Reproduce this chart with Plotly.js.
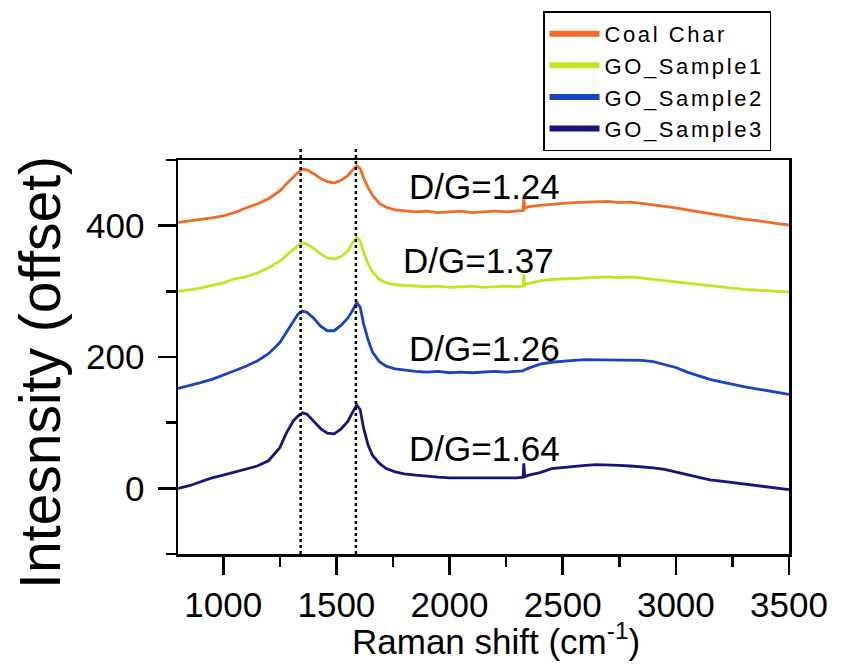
<!DOCTYPE html>
<html>
<head>
<meta charset="utf-8">
<script src="https://cdn.plot.ly/plotly-3.0.1.min.js"></script>
<style>
html,body{margin:0;padding:0;background:#fff;}
#chart{width:841px;height:664px;}
.legendtext{letter-spacing:2.6px;}
</style>
</head>
<body>
<div id="chart"></div>
<script>
// Raman shift (cm-1)
const ramanShift = [800,850,900,950,1000,1050,1100,1150,1200,1250,
  1280,1310,1330,1350,1370,1400,1430,1460,1490,1520,
  1550,1570,1590,1605,1620,1640,1660,1690,1720,1760,
  1800,1850,1900,1950,2000,2050,2100,2150,2200,2250,
  2300,2325,2328,2332,2335,2350,2400,2450,2500,2550,
  2600,2650,2700,2750,2800,2850,2900,2950,3000,3050,
  3100,3150,3200,3250,3300,3350,3400,3450,3500];

const coalChar = [405,407,409,412,415,420,427,433,441,453,
  464,475,481,486,485,479,472,467,465,469,
  476,484,491,487,473,458,446,434,428,424,
  423,421,422,420,421,422,420,421,422,421,
  422,423,441,425,427,429,431,433,434,435,
  436,436,437,435,436,434,432,430,427,424,
  421,418,416,413,410,408,405,403,401];

const goSample1 = [300,302,305,309,313,319,322,328,336,346,
  355,364,370,374,372,365,357,351,349,353,
  361,373,382,377,360,342,329,318,313,310,
  309,308,307,308,306,307,308,306,307,308,
  307,308,326,309,310,312,316,318,319,320,
  321,322,322,321,322,320,318,316,314,312,
  310,308,306,305,303,302,301,300,299];

const goSample2 = [152,156,161,166,172,179,186,194,205,222,
  238,255,265,270,268,259,247,240,240,248,
  259,270,283,276,251,226,207,193,186,182,
  180,178,177,178,176,177,176,177,178,177,
  178,179,180,180,181,183,189,192,194,195,
  196,196,196,195,196,195,193,189,184,177,
  171,166,162,158,155,152,149,146,143];

const goSample3 = [0,4,10,16,20,25,30,34,42,62,
  85,103,110,115,113,102,91,84,83,90,
  102,115,127,120,92,66,50,38,30,25,
  22,20,18,17,16,16,15,16,15,16,
  16,17,38,18,18,20,24,30,32,34,
  35,36,36,35,34,33,31,29,25,20,
  16,13,11,9,7,5,2,0,-2];

const seriesNames = ['Coal Char','GO_Sample1','GO_Sample2','GO_Sample3'];
const seriesValues = [coalChar, goSample1, goSample2, goSample3];
const seriesColors = ['#F26A24','#C2E422','#1844C4','#17157C'];
const ratioLabels = ['D/G=1.24','D/G=1.37','D/G=1.26','D/G=1.64'];
const peakNames = ['D','G'];
const peakPositions = [1342, 1586];

const FONT = 'Liberation Sans, Arial, Helvetica, sans-serif';

const traces = [];
seriesValues.forEach((vals, i) => {
  traces.push({x: ramanShift, y: vals, mode: 'lines', name: seriesNames[i],
    line: {color: seriesColors[i], width: 2.8}, showlegend: false, hoverinfo: 'skip'});
});
seriesNames.forEach((n, i) => {
  traces.push({x: [null], y: [null], mode: 'lines', name: n,
    line: {color: seriesColors[i], width: 6}, showlegend: true});
});

// layout positions for the ratio labels (x left edge, y centre, data units)
const ratioLabelPos = [[1812, 459], [1785, 347], [1812, 213], [1812, 60]];
const peakLabelShift = [-2, -5];

const annotations = [];
ratioLabels.forEach((t, i) => {
  annotations.push({text: t, x: ratioLabelPos[i][0], y: ratioLabelPos[i][1], xref: 'x', yref: 'y',
    xanchor: 'left', yanchor: 'middle', showarrow: false, font: {family: FONT, size: 35, color: '#000'}});
});
peakNames.forEach((t, i) => {
  annotations.push({text: t, x: peakPositions[i], y: 566, xref: 'x', yref: 'y', xshift: peakLabelShift[i],
    xanchor: 'center', yanchor: 'middle', showarrow: false, font: {family: FONT, size: 35, color: '#000'}});
});
annotations.push({text: 'Intesnsity (offset)', textangle: -90, xref: 'paper', yref: 'paper',
  x: -0.226, y: 0.462, xanchor: 'center', yanchor: 'middle', showarrow: false,
  font: {family: FONT, size: 57, color: '#000'}});
annotations.push({text: 'Raman shift (cm<sup>-1</sup>)', xref: 'paper', yref: 'paper',
  x: 0.52, y: -0.216, xanchor: 'center', yanchor: 'middle', showarrow: false,
  font: {family: FONT, size: 35, color: '#000'}});

const shapes = peakPositions.map(p => ({type: 'line', xref: 'x', yref: 'paper', x0: p, x1: p, y0: 0, y1: 1.033,
  line: {color: '#000', width: 2.5, dash: 'dot'}, layer: 'above'}));

const layout = {
  width: 841, height: 664,
  margin: {l: 178, r: 52, t: 156, b: 110, pad: 0},
  paper_bgcolor: '#fff', plot_bgcolor: '#fff',
  font: {family: FONT, color: '#000'},
  xaxis: {range: [800, 3500], tickmode: 'linear', tick0: 1000, dtick: 500,
    ticks: 'outside', ticklen: 18, tickwidth: 2.5, tickcolor: '#000',
    showline: true, linewidth: 2.5, linecolor: '#000', mirror: true,
    showgrid: false, zeroline: false, tickfont: {size: 35, family: FONT}, ticklabelstandoff: 0,
    minor: {tick0: 750, dtick: 250, ticks: 'outside', ticklen: 10, tickwidth: 2.5, tickcolor: '#000', showgrid: false}},
  yaxis: {range: [-100, 500], tickmode: 'linear', tick0: 0, dtick: 200,
    ticks: 'outside', ticklen: 18, tickwidth: 2.5, tickcolor: '#000',
    showline: true, linewidth: 2.5, linecolor: '#000', mirror: true,
    showgrid: false, zeroline: false, tickfont: {size: 35, family: FONT}, ticklabelstandoff: 6,
    minor: {tick0: 0, dtick: 100, ticks: 'outside', ticklen: 10, tickwidth: 2.5, tickcolor: '#000', showgrid: false}},
  legend: {x: 0.5974, y: 1.377, xanchor: 'left', yanchor: 'top', bordercolor: '#000', borderwidth: 1.5,
    bgcolor: '#fff', font: {family: FONT, size: 22, color: '#000'}, tracegroupgap: 0, itemwidth: 50},
  annotations: annotations,
  shapes: shapes,
  showlegend: true
};

Plotly.newPlot('chart', traces, layout, {displayModeBar: false, staticPlot: true});
</script>
</body>
</html>
